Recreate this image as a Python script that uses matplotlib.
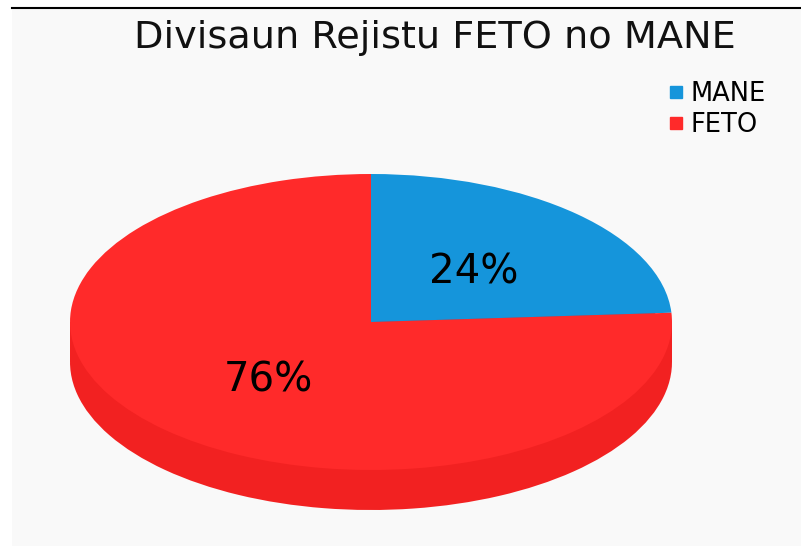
import matplotlib
matplotlib.use("Agg")
import matplotlib.pyplot as plt
from matplotlib.patches import Rectangle
from matplotlib.lines import Line2D

title = "Divisaun Rejistu FETO no MANE"
labels = ["MANE", "FETO"]
values = [24, 76]
top_colors = ["#1595db", "#ff2a2a"]
side_colors = ["#1380c0", "#f22121"]

fig = plt.figure(figsize=(8.01, 5.46), dpi=100)
fig.patch.set_facecolor("white")

# axes covers the grey panel (pixels: left 12, top 8)
W, H = 801, 546
left_px, top_px = 12, 8
ax = fig.add_axes([left_px / W, 0, 1 - left_px / W, (H - top_px) / H])
ax.set_facecolor("#f9f9f9")

# pixel geometry of the squashed pie
cx, cy = 371, 322          # centre of top face
rx, ry = 301, 148          # radii of top face
depth = 40                 # thickness in px
aw, ah = W - left_px, H - top_px
x0 = cx - left_px
y0 = ah - (cy - top_px)
d = depth / ry

# side of the cylinder: lower pie + band
ax.pie(values, colors=side_colors, startangle=90, counterclock=False,
       center=(0, -d), radius=1, frame=True,
       wedgeprops=dict(linewidth=0))
ax.add_patch(Rectangle((-1, -d), 2, d, facecolor=side_colors[1],
                       edgecolor="none", zorder=1))

# top face
wedges, texts, autotexts = ax.pie(
    values, colors=top_colors, startangle=90, counterclock=False,
    autopct="%1.0f%%", pctdistance=0.5, radius=1, frame=True,
    wedgeprops=dict(linewidth=0, zorder=3),
    textprops=dict(fontsize=29, color="black"))
for t in autotexts:
    t.set_zorder(5)
    t.set_va("center_baseline")

ax.set_xlim(-x0 / rx, (aw - x0) / rx)
ax.set_ylim(-y0 / ry, (ah - y0) / ry)
ax.set_aspect("auto")
ax.set_xticks([])
ax.set_yticks([])
for s in ["left", "right", "bottom"]:
    ax.spines[s].set_visible(False)
ax.spines["top"].set_linewidth(1.5)
ax.spines["top"].set_color("black")

fig.text(435 / W, 1 - 48 / H, title, ha="center", va="baseline",
         fontsize=27.5, color="#111111")

handles = [Line2D([], [], marker="s", linestyle="none", markersize=8,
                  markerfacecolor=c, markeredgecolor=c) for c in top_colors]
ax.legend(handles, labels, loc="upper left",
          bbox_to_anchor=(669 / W, 1 - 81 / H), bbox_transform=fig.transFigure,
          frameon=False, fontsize=18.5, handlelength=0.55, handletextpad=0.3,
          labelspacing=0.2, borderpad=0, borderaxespad=0)

fig.savefig("out.png", dpi=100)
